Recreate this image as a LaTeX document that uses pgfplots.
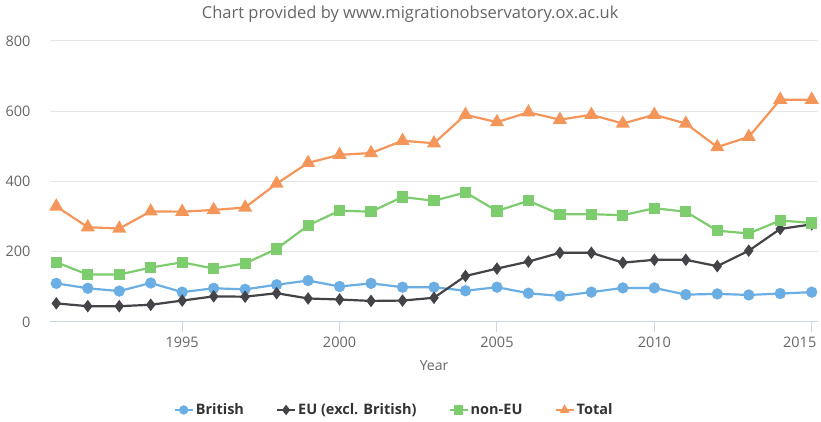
\documentclass[border=0pt]{standalone}
\usepackage{pgfplots}
\pgfplotsset{compat=1.18}
\usepackage{fontspec}
\setmainfont{Open Sans}
\definecolor{cBrit}{HTML}{6AAEE3}
\definecolor{cEU}{HTML}{434348}
\definecolor{cNon}{HTML}{7DCC6E}
\definecolor{cTot}{HTML}{F4965A}
\definecolor{cGrid}{HTML}{E6E6E6}
\definecolor{cAx}{HTML}{CCD6EB}
\definecolor{cTxt}{HTML}{666666}
\begin{document}
\begin{tikzpicture}[x=1pt,y=1pt]
\useasboundingbox (0,0) rectangle (821,422);
\begin{axis}[
  at={(50pt,100pt)}, anchor=south west,
  scale only axis, width=768pt, height=281pt,
  xmin=1990.8, xmax=2015.2, ymin=0, ymax=800,
  xtick={1995,2000,2005,2010,2015},
  xticklabels={1995,2000,2005,2010,\hspace*{-12pt}2015\hspace*{12pt}},
  ytick={0,200,400,600,800},
  /pgf/number format/1000 sep={},
  /pgf/number format/assume math mode=true,
  axis x line*=bottom, axis y line*=left,
  x axis line style={draw=cAx, line width=1pt, -},
  y axis line style={draw=none},
  xtick style={draw=cAx, line width=1pt},
  ytick style={draw=none},
  tick align=outside, major tick length=10pt,
  ymajorgrids, grid style={draw=cGrid, line width=1pt},
  ticklabel style={font=\fontsize{14.5}{16}\selectfont, text=cTxt},
  xticklabel style={yshift=-1pt},
  yticklabel style={xshift=-6pt},
  xlabel={Year}, xlabel style={font=\fontsize{14}{16}\selectfont, text=cTxt, yshift=-6pt},
  title={Chart provided by www.migrationobservatory.ox.ac.uk},
  title style={font=\fontsize{16.5}{18}\selectfont, text=cTxt, at={(rel axis cs:0.469,1)}, anchor=center, yshift=21pt},
  legend style={at={(rel axis cs:0.448,0)}, anchor=center, yshift=-88pt, draw=none, fill=none,
    font=\bfseries\fontsize{14.5}{16}\selectfont, text=black!80, legend columns=-1,
    /tikz/every even column/.append style={column sep=30pt}},
  legend image code/.code={\draw[#1, mark repeat=2, mark phase=2, mark size=3.5pt] plot coordinates {(0pt,0pt) (9pt,0pt) (18pt,0pt)};},
  every axis plot/.append style={line width=2.2pt},
]
\addplot[cBrit, mark=*, mark size=4.5pt, mark options={solid}] coordinates {
(1991,110)(1992,96)(1993,88)(1994,111)(1995,85)(1996,96)(1997,93)(1998,106)(1999,118)(2000,101)
(2001,110)(2002,99)(2003,99)(2004,89)(2005,99)(2006,82)(2007,74)(2008,85)(2009,97)(2010,97)
(2011,78)(2012,80)(2013,77)(2014,81)(2015,85)};
\addlegendentry{British}
\addplot[cEU, mark=diamond*, mark size=4.5pt, mark options={solid}] coordinates {
(1991,53)(1992,45)(1993,45)(1994,49)(1995,61)(1996,73)(1997,72)(1998,82)(1999,67)(2000,64)
(2001,60)(2002,61)(2003,69)(2004,131)(2005,152)(2006,172)(2007,197)(2008,197)(2009,169)(2010,177)
(2011,177)(2012,159)(2013,203)(2014,265)(2015,278)};
\addlegendentry{EU (excl. British)}
\addplot[cNon, mark=square*, mark size=4.5pt, mark options={solid}] coordinates {
(1991,170)(1992,135)(1993,135)(1994,155)(1995,170)(1996,152)(1997,167)(1998,208)(1999,275)(2000,317)
(2001,314)(2002,356)(2003,345)(2004,369)(2005,316)(2006,345)(2007,307)(2008,307)(2009,304)(2010,324)
(2011,314)(2012,260)(2013,252)(2014,289)(2015,282)};
\addlegendentry{non-EU}
\addplot[cTot, mark=triangle*, mark size=6pt, mark options={solid}] coordinates {
(1991,329)(1992,270)(1993,266)(1994,315)(1995,314)(1996,319)(1997,326)(1998,394)(1999,453)(2000,476)
(2001,481)(2002,516)(2003,509)(2004,590)(2005,569)(2006,597)(2007,576)(2008,590)(2009,565)(2010,590)
(2011,565)(2012,498)(2013,527)(2014,633)(2015,633)};
\addlegendentry{Total}
\end{axis}
\end{tikzpicture}
\end{document}
